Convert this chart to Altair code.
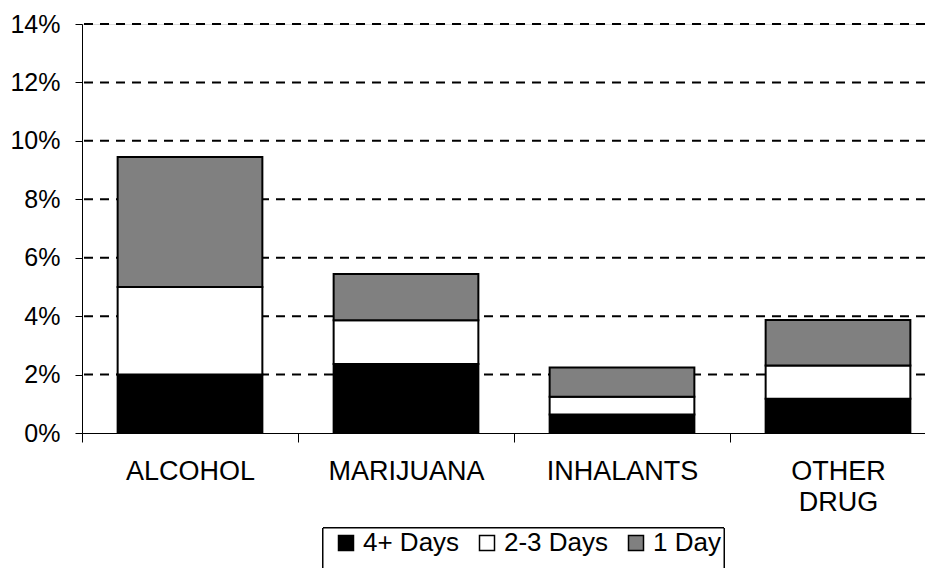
import altair as alt
import pandas as pd

categories = ["ALCOHOL", "MARIJUANA", "INHALANTS", "OTHER DRUG"]
series_names = ["4+ Days", "2-3 Days", "1 Day"]
days_4plus = [0.0200, 0.0236, 0.0063, 0.0117]
days_2to3 = [0.0300, 0.0150, 0.0061, 0.0114]
day_1 = [0.0445, 0.0158, 0.0100, 0.0156]
series_colors = ["#000000", "#ffffff", "#808080"]
y_ticks = [0, 0.02, 0.04, 0.06, 0.08, 0.10, 0.12, 0.14]
grid_values = [0.02, 0.04, 0.06, 0.08, 0.10, 0.12, 0.14]

rows = []
for i, cat in enumerate(categories):
    for j, (name, vals) in enumerate(zip(series_names, [days_4plus, days_2to3, day_1])):
        rows.append({"cat": cat, "series": name, "value": vals[i], "idx": j})
df = pd.DataFrame(rows)
grid_df = pd.DataFrame({"v": grid_values})

FONT = "Liberation Sans"

x_scale = alt.Scale(domain=categories, range=[0, 864], paddingInner=0, paddingOuter=0)
y_scale = alt.Scale(domain=[0, 0.14], nice=False)

y_axis = alt.Axis(
    title=None,
    values=y_ticks,
    format=".0%",
    labelFont=FONT,
    labelFontSize=25,
    labelColor="black",
    labelPadding=15,
    tickSize=7,
    tickColor="black",
    domainColor="black",
    domainWidth=1,
    grid=False,
)

grid = alt.Chart(grid_df).mark_rule(
    color="black", strokeWidth=2, strokeDash=[9, 7]
).encode(
    y=alt.Y("v:Q", scale=y_scale, axis=y_axis)
)

legend_box = alt.Chart(grid_df).mark_rect(
    fill="white", stroke="black", strokeWidth=1
).encode(
    x=alt.value(241), x2=alt.value(642), y=alt.value(504), y2=alt.value(600)
)

bars = alt.Chart(df).mark_bar(
    stroke="black", strokeWidth=2, width=alt.RelativeBandSize(0.67)
).encode(
    x=alt.X(
        "cat:N",
        scale=x_scale,
        sort=categories,
        axis=alt.Axis(
            title=None,
            labelAngle=0,
            labelFont=FONT,
            labelFontSize=27,
            labelColor="black",
            labelPadding=16,
            labelLineHeight=31,
            labelExpr="datum.value == 'OTHER DRUG' ? ['OTHER', 'DRUG'] : datum.value",
            tickBand="extent",
            tickSize=9,
            tickColor="black",
            domainColor="black",
            domainWidth=1,
            grid=False,
        ),
    ),
    y=alt.Y("value:Q", scale=y_scale, stack="zero", axis=y_axis),
    color=alt.Color(
        "series:N",
        scale=alt.Scale(domain=series_names, range=series_colors),
        legend=alt.Legend(
            title=None,
            orient="none",
            direction="horizontal",
            legendX=251,
            legendY=506,
            symbolType="square",
            symbolSize=225,
            symbolStrokeColor="black",
            symbolStrokeWidth=1.5,
            labelFont=FONT,
            labelFontSize=26,
            labelColor="black",
            labelOffset=4,
            columnPadding=14,
            padding=0,
        ),
    ),
    order=alt.Order("idx:Q", sort="ascending"),
)

chart = alt.layer(grid, legend_box, bars).properties(
    width=843,
    height=409,
    autosize=alt.AutoSizeParams(type="none"),
    padding={"left": 74, "top": 16, "right": 0, "bottom": 135},
).configure_view(stroke=None).configure(font=FONT, background="white")

chart.save("out.html", embed_options={"renderer": "svg", "actions": False})
